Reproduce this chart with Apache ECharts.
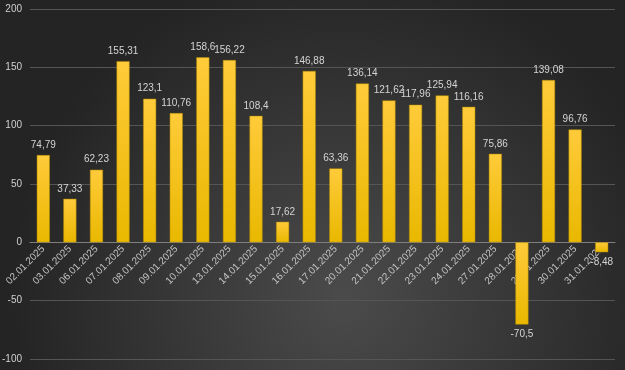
<!DOCTYPE html>
<html><head><meta charset="utf-8">
<script src="https://cdn.jsdelivr.net/npm/echarts@6/dist/echarts.min.js"></script>
<style>html,body{margin:0;padding:0;background:#333;}#c{width:625px;height:370px;}</style>
</head><body><div id="c"></div>
<script>
var categories = ['02.01.2025','03.01.2025','06.01.2025','07.01.2025','08.01.2025','09.01.2025','10.01.2025','13.01.2025','14.01.2025','15.01.2025','16.01.2025','17.01.2025','20.01.2025','21.01.2025','22.01.2025','23.01.2025','24.01.2025','27.01.2025','28.01.2025','29.01.2025','30.01.2025','31.01.2025'];
var values = [74.79,37.33,62.23,155.31,123.1,110.76,158.6,156.22,108.4,17.62,146.88,63.36,136.14,121.62,117.96,125.94,116.16,75.86,-70.5,139.08,96.76,-8.48];
var yTicks = [-100,-50,0,50,100,150,200];

var chart = echarts.init(document.getElementById('c'));
chart.setOption({
  backgroundColor: {type:'radial', x:0.55, y:0.8, r:0.9, colorStops:[{offset:0,color:'#4b4b4b'},{offset:1,color:'#242424'}]},
  animation:false,
  grid:{left:30,right:10,top:9,bottom:11,containLabel:false, outerBoundsMode:'none'},
  xAxis:{type:'category', data:categories,
    axisLine:{onZero:false, lineStyle:{color:'#7f7f7f'}},
    axisTick:{show:false},
    axisLabel:{rotate:45, color:'#c4c4c4', fontSize:10, fontFamily:'Liberation Sans', margin:5, interval:0, hideOverlap:false}
  },
  yAxis:{type:'value', min:yTicks[0], max:yTicks[yTicks.length-1], interval:50,
    axisLine:{show:false}, axisTick:{show:false},
    splitLine:{lineStyle:{color:'#555555', width:1}},
    axisLabel:{color:'#d0d0d0', fontSize:10, fontFamily:'Liberation Sans', margin:8}
  },
  series:[{type:'bar', data:values.map(function(v){return {value:v, label:{position: v<0?'bottom':'top'}};}), barWidth:'49%',
    itemStyle:{color:{type:'linear',x:0,y:0,x2:0,y2:1,colorStops:[{offset:0,color:'#ffcb3a'},{offset:1,color:'#e9b800'}]}, borderColor:'#b08a00', borderWidth:0.5},
    label:{show:true, color:'#d4d4d4', fontSize:10, fontFamily:'Liberation Sans', distance:5,
      formatter:function(p){return String(p.value).replace('.',',');}}
  }]
});
var zeroY = chart.convertToPixel({yAxisIndex:0}, 0);
var bottomY = chart.convertToPixel({yAxisIndex:0}, yTicks[0]);
chart.setOption({xAxis:{offset: zeroY - bottomY}});
</script></body></html>
